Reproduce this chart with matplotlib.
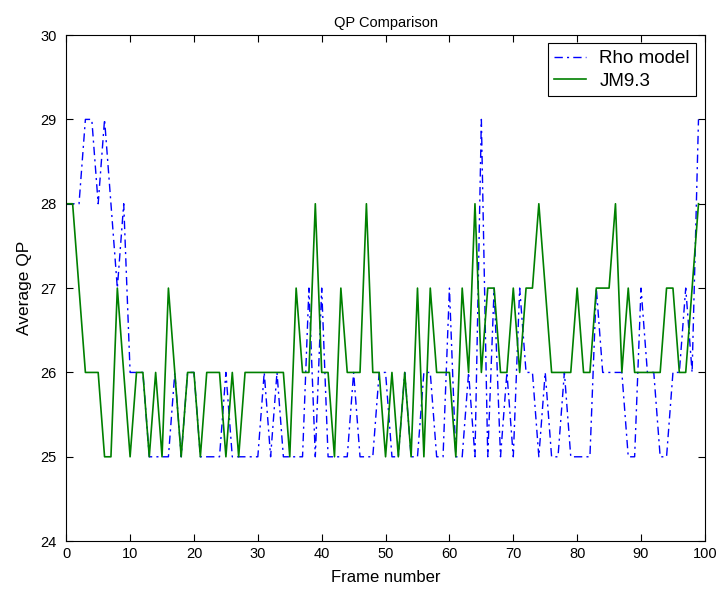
import matplotlib
matplotlib.use('Agg')
import matplotlib.pyplot as plt
import numpy as np

# frame index 0..99
frames = np.arange(100)

# Rho model (blue dash-dot)
rho_model = [28, 28, 28, 29, 29, 28, 29, 28, 27, 28,
             26, 26, 26, 25, 25, 25, 25, 26, 25, 26,
             26, 25, 25, 25, 25, 26, 25, 25, 25, 25,
             25, 26, 25, 26, 25, 25, 25, 25, 27, 25,
             27, 25, 25, 25, 25, 26, 25, 25, 25, 26,
             26, 25, 25, 26, 25, 25, 26, 26, 25, 25,
             27, 25, 25, 26, 25, 29, 25, 27, 25, 26,
             25, 27, 26, 26, 25, 26, 25, 25, 26, 25,
             25, 25, 25, 27, 26, 26, 26, 26, 25, 25,
             27, 26, 26, 25, 25, 26, 26, 27, 26, 29]

# JM9.3 (green solid)
jm93 = [28, 28, 27, 26, 26, 26, 25, 25, 27, 26,
        25, 26, 26, 25, 26, 25, 27, 26, 25, 26,
        26, 25, 26, 26, 26, 25, 26, 25, 26, 26,
        26, 26, 26, 26, 26, 25, 27, 26, 26, 28,
        26, 26, 25, 27, 26, 26, 26, 28, 26, 26,
        25, 26, 25, 26, 25, 27, 25, 27, 26, 26,
        26, 25, 27, 26, 28, 26, 27, 27, 26, 26,
        27, 26, 27, 27, 28, 27, 26, 26, 26, 26,
        27, 26, 26, 27, 27, 27, 28, 26, 27, 26,
        26, 26, 26, 26, 27, 27, 26, 26, 27, 28]

x_ticks = list(range(0, 101, 10))
y_ticks = [24, 25, 26, 27, 28, 29, 30]

plt.rcParams['font.family'] = ['Liberation Sans', 'DejaVu Sans']

fig = plt.figure(figsize=(7.2, 5.94), dpi=100)
ax = fig.add_axes([0.092, 0.089, 0.887, 0.852])

ax.plot(frames, rho_model, color='#0000ff', linewidth=1.0,
        linestyle=(0, (6, 3, 1.5, 3)), label='Rho model')
ax.plot(frames, jm93, color='#008000', linewidth=1.2, label='JM9.3')

ax.set_xlim(0, 100)
ax.set_ylim(24, 30)
ax.set_xticks(x_ticks)
ax.set_yticks(y_ticks)
ax.tick_params(direction='in', length=5, top=True, right=True, labelsize=10.5)
ax.tick_params(axis='x', pad=4)
ax.tick_params(axis='y', pad=7)
for s in ax.spines.values():
    s.set_linewidth(0.8)

ax.set_title('QP Comparison', fontsize=10.5, pad=6)
ax.set_xlabel('Frame number', fontsize=12, labelpad=7)
ax.set_ylabel('Average QP', fontsize=12.5, labelpad=6)

leg = ax.legend(loc='upper right', fancybox=False, framealpha=1, edgecolor='black',
                fontsize=13.5, handlelength=1.7, handletextpad=0.7,
                borderaxespad=0.45, borderpad=0.35, labelspacing=0.3)
leg.get_frame().set_linewidth(0.8)

plt.savefig('out.png', dpi=100)
plt.close()
